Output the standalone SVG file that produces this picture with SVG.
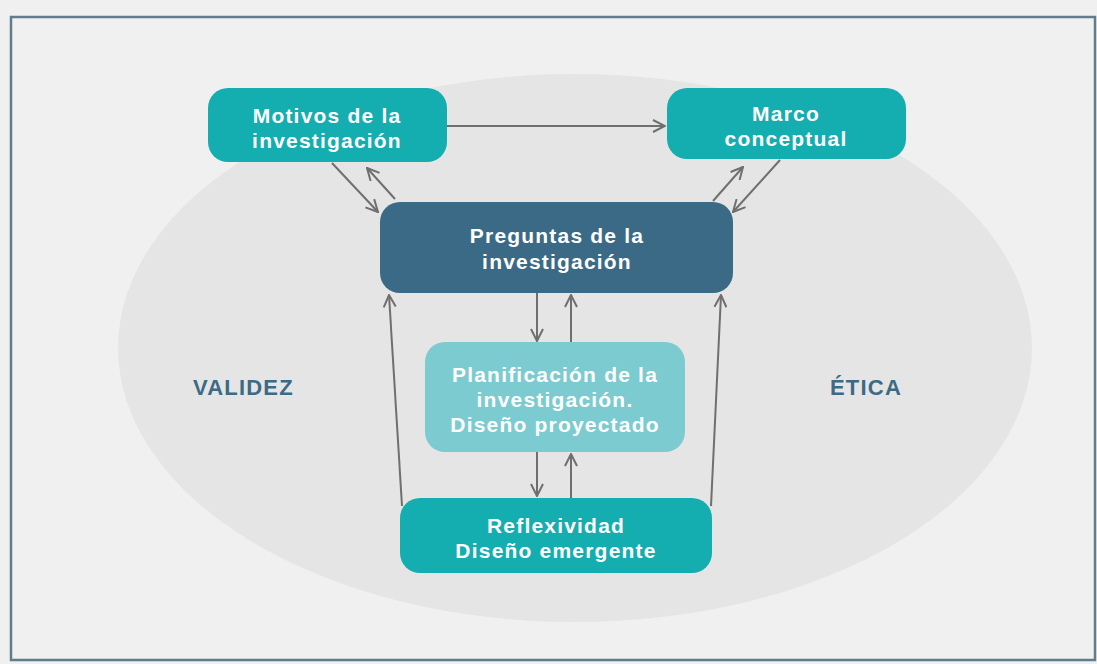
<svg xmlns="http://www.w3.org/2000/svg" width="1097" height="664" viewBox="0 0 1097 664">
<style>
.box text{fill:#ffffff;font-family:"Liberation Sans",Arial,sans-serif;font-weight:700;font-size:21px;letter-spacing:1.2px;text-anchor:middle}
.teal{fill:#14adb0}
.dark{fill:#3b6a86}
.light{fill:#7ccbd0}
.lbl{fill:#3d6a84;font-family:"Liberation Sans",Arial,sans-serif;font-weight:700;font-size:22px;letter-spacing:1.2px}
.con line{stroke:#6f6f6f;stroke-width:2;fill:none;marker-end:url(#ah)}
</style>
<defs>
<marker id="ah" viewBox="0 0 14 14" refX="13" refY="7" markerWidth="14" markerHeight="14" markerUnits="userSpaceOnUse" orient="auto">
<path d="M1,1 L13,7 L1,13" fill="none" stroke="#6f6f6f" stroke-width="2"/>
</marker>
</defs>
<rect x="0" y="0" width="1097" height="664" fill="#f0f0f0"/>
<rect x="11" y="17" width="1084" height="643" fill="#f0f0f0" stroke="#5f7e8d" stroke-width="2.5"/>
<ellipse id="ellipse" cx="575" cy="348" rx="457" ry="274" fill="#e5e5e5"/>
<text class="lbl" x="193" y="395" id="validez">VALIDEZ</text>
<text class="lbl" x="830" y="395" id="etica">ÉTICA</text>
<g class="con">
<line x1="447" y1="126" x2="665" y2="126"/>
<line x1="332" y1="163" x2="378" y2="212"/>
<line x1="395" y1="199" x2="367" y2="168"/>
<line x1="713" y1="201" x2="743" y2="167"/>
<line x1="780" y1="160" x2="733" y2="212"/>
<line x1="537" y1="293" x2="537" y2="341"/>
<line x1="571" y1="342" x2="571" y2="295"/>
<line x1="537" y1="452" x2="537" y2="496"/>
<line x1="571" y1="498" x2="571" y2="454"/>
<line x1="402" y1="506" x2="389" y2="295"/>
<line x1="711" y1="506" x2="721" y2="295"/>
</g>
<g id="motivos" class="box">
<rect class="teal" x="208" y="88" width="239" height="74" rx="20"/>
<text x="327" y="123">Motivos de la</text>
<text x="327" y="148">investigación</text>
</g>
<g id="marco" class="box">
<rect class="teal" x="667" y="88" width="239" height="71" rx="20"/>
<text x="786" y="121">Marco</text>
<text x="786" y="146">conceptual</text>
</g>
<g id="preguntas" class="box">
<rect class="dark" x="380" y="202" width="353" height="91" rx="20"/>
<text x="557" y="243">Preguntas de la</text>
<text x="557" y="269">investigación</text>
</g>
<g id="planificacion" class="box">
<rect class="light" x="425" y="342" width="260" height="110" rx="20"/>
<text x="555" y="382">Planificación de la</text>
<text x="555" y="407">investigación.</text>
<text x="555" y="432">Diseño proyectado</text>
</g>
<g id="reflexividad" class="box">
<rect class="teal" x="400" y="498" width="312" height="75" rx="20"/>
<text x="556" y="533">Reflexividad</text>
<text x="556" y="558">Diseño emergente</text>
</g>
</svg>
